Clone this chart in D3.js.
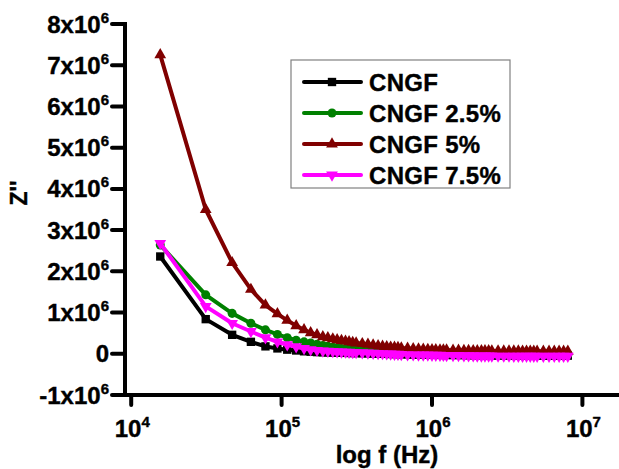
<!DOCTYPE html>
<html>
<head>
<meta charset="utf-8">
<script src="https://cdn.jsdelivr.net/npm/d3@7"></script>
<style>
  html, body { margin: 0; padding: 0; background: #fff; }
  svg { display: block; font-family: "Liberation Sans", Arial, sans-serif; font-weight: bold; }
  text { stroke: #000; stroke-width: 0.4px; }
</style>
</head>
<body>
<div id="chart"></div>
<script>
// frequency (Hz)
const freq = [15600, 31300, 46900, 62500, 78100, 93800, 109000, 125000, 141000, 156000,
  172000, 188000, 203000, 219000, 234000, 250000, 266000, 281000, 297000, 313000,
  344000, 375000, 406000, 438000, 469000, 500000, 531000, 563000, 594000, 625000,
  688000, 750000, 813000, 875000, 938000, 1000000, 1060000, 1130000, 1190000, 1250000,
  1380000, 1500000, 1630000, 1750000, 1880000, 2000000, 2130000, 2250000, 2380000, 2500000,
  2750000, 3000000, 3250000, 3500000, 3750000, 4000000, 4250000, 4500000, 4750000, 5000000,
  5500000, 6000000, 6500000, 7000000, 7500000, 8000000];

// Z'' in units of 1e6
const zCNGF = [2.36, 0.84, 0.46, 0.29, 0.18, 0.13, 0.10, 0.08, 0.06, 0.05,
  0.04, 0.035, 0.032, 0.03, 0.027, 0.025, 0.022, 0.02, 0.017, 0.015,
  0.012, 0.01, 0.005, 0.002, 0, -0.002, -0.005, -0.007, -0.01, -0.012,
  -0.015, -0.02, -0.02, -0.02, -0.025, -0.025, -0.025, -0.027, -0.03, -0.03,
  -0.03, -0.03, -0.032, -0.035, -0.035, -0.035, -0.035, -0.037, -0.04, -0.04,
  -0.04, -0.04, -0.04, -0.04, -0.04, -0.04, -0.04, -0.04, -0.04, -0.04,
  -0.045, -0.045, -0.045, -0.045, -0.045, -0.045];
const zCNGF25 = [2.64, 1.43, 0.98, 0.74, 0.58, 0.47, 0.39, 0.33, 0.29, 0.26,
  0.23, 0.20, 0.18, 0.16, 0.145, 0.13, 0.12, 0.11, 0.10, 0.09,
  0.08, 0.07, 0.06, 0.055, 0.05, 0.045, 0.04, 0.035, 0.03, 0.027,
  0.02, 0.015, 0.01, 0.007, 0.005, 0.002, 0, -0.002, -0.005, -0.007,
  -0.01, -0.01, -0.012, -0.015, -0.015, -0.017, -0.02, -0.02, -0.02, -0.02,
  -0.025, -0.025, -0.025, -0.025, -0.025, -0.025, -0.025, -0.025, -0.025, -0.025,
  -0.025, -0.025, -0.025, -0.025, -0.025, -0.025];
const zCNGF5 = [7.25, 3.50, 2.21, 1.56, 1.18, 0.97, 0.81, 0.68, 0.58, 0.51,
  0.46, 0.41, 0.385, 0.36, 0.34, 0.32, 0.305, 0.29, 0.275, 0.26,
  0.245, 0.23, 0.21, 0.195, 0.18, 0.17, 0.16, 0.155, 0.15, 0.14,
  0.13, 0.12, 0.115, 0.11, 0.10, 0.098, 0.095, 0.092, 0.09, 0.088,
  0.085, 0.082, 0.08, 0.078, 0.075, 0.074, 0.072, 0.071, 0.07, 0.069,
  0.068, 0.066, 0.065, 0.064, 0.064, 0.063, 0.062, 0.062, 0.061, 0.061,
  0.06, 0.06, 0.06, 0.06, 0.06, 0.06];
const zCNGF75 = [2.68, 1.15, 0.74, 0.54, 0.39, 0.29, 0.22, 0.17, 0.13, 0.10,
  0.085, 0.07, 0.062, 0.055, 0.05, 0.045, 0.042, 0.04, 0.035, 0.03,
  0.025, 0.02, 0.015, 0.01, 0.005, 0, -0.005, -0.01, -0.012, -0.015,
  -0.02, -0.025, -0.027, -0.03, -0.03, -0.032, -0.035, -0.035, -0.037, -0.04,
  -0.04, -0.042, -0.045, -0.045, -0.047, -0.05, -0.05, -0.05, -0.05, -0.052,
  -0.055, -0.055, -0.055, -0.057, -0.058, -0.06, -0.06, -0.06, -0.06, -0.06,
  -0.06, -0.06, -0.06, -0.06, -0.06, -0.06];

const seriesNames = ["CNGF", "CNGF 2.5%", "CNGF 5%", "CNGF 7.5%"];
const seriesValues = [zCNGF, zCNGF25, zCNGF5, zCNGF75];
const seriesColors = ["#000000", "#008000", "#800000", "#ff00ff"];
const seriesSymbols = ["square", "circle", "triangle", "triangleDown"];

const yTicks = [-1, 0, 1, 2, 3, 4, 5, 6, 7, 8];
const xTickExp = [4, 5, 6, 7];

const W = 619, H = 469;
const svg = d3.select("#chart").append("svg").attr("width", W).attr("height", H);

// decade 10^4 sits at 131, about 150.4 px per decade
const xBase = d3.scaleLog().domain([1e4, 1e7]).range([131.2, 582.4]);
const x = d3.scaleLog().domain([xBase.invert(125), xBase.invert(622)]).range([125, 622]);
const y = d3.scaleLinear().domain([-1, 8]).range([395, 24]);

// axes
const axG = svg.append("g");
axG.append("line").attr("x1", 125).attr("x2", 125).attr("y1", y(8) - 2).attr("y2", y(-1) + 2)
  .attr("stroke", "#000").attr("stroke-width", 4);
axG.append("line").attr("x1", 123).attr("x2", 622).attr("y1", y(-1)).attr("y2", y(-1))
  .attr("stroke", "#000").attr("stroke-width", 4);

axG.selectAll("line.ytick").data(yTicks).enter().append("line").attr("class", "ytick")
  .attr("x1", 112).attr("x2", 125).attr("y1", d => y(d)).attr("y2", d => y(d))
  .attr("stroke", "#000").attr("stroke-width", 4).attr("stroke-linecap", "round");

axG.selectAll("line.xtick").data(xTickExp).enter().append("line").attr("class", "xtick")
  .attr("x1", d => x(Math.pow(10, d))).attr("x2", d => x(Math.pow(10, d)))
  .attr("y1", y(-1)).attr("y2", y(-1) + 10)
  .attr("stroke", "#000").attr("stroke-width", 4).attr("stroke-linecap", "round");

// y tick labels
const yl = axG.selectAll("text.ylab").data(yTicks).enter().append("text").attr("class", "ylab")
  .attr("x", 109).attr("y", d => y(d) + 8.5).attr("text-anchor", "end")
  .style("font-size", "24px");
yl.each(function(d) {
  const t = d3.select(this);
  if (d === 0) { t.text("0"); return; }
  t.append("tspan").text((d < 0 ? "-" : "") + Math.abs(d) + "x10");
  t.append("tspan").attr("dy", -10).style("font-size", "15px").text("6");
});

// x tick labels
const xl = axG.selectAll("text.xlab").data(xTickExp).enter().append("text").attr("class", "xlab")
  .attr("x", d => x(Math.pow(10, d)) + 1).attr("y", 437).attr("text-anchor", "middle")
  .style("font-size", "24px");
xl.append("tspan").text("10");
xl.append("tspan").attr("dy", -10).style("font-size", "15px").text(d => d);

// axis titles
svg.append("text").attr("x", 387).attr("y", 463).attr("text-anchor", "middle")
  .style("font-size", "24px").text("log f (Hz)");
svg.append("text").attr("transform", "translate(27,193) rotate(-90)").attr("text-anchor", "middle")
  .style("font-size", "23px").text("Z''");

// series
const line = d3.line().x(d => x(d[0])).y(d => y(d[1]));
function symbolPath(kind, size) {
  if (kind === "square") return d3.symbol(d3.symbolSquare, size)();
  if (kind === "circle") return d3.symbol(d3.symbolCircle, size)();
  return d3.symbol(d3.symbolTriangle, size)();
}
const symSizes = { square: 70, circle: 64, triangle: 60, triangleDown: 60 };

seriesValues.forEach((vals, i) => {
  const pts = freq.map((f, j) => [f, vals[j]]);
  const g = svg.append("g");
  g.append("path").datum(pts).attr("d", line).attr("fill", "none")
    .attr("stroke", seriesColors[i]).attr("stroke-width", 4).attr("stroke-linejoin", "round");
  const kind = seriesSymbols[i];
  g.selectAll("path.m").data(pts).enter().append("path").attr("class", "m")
    .attr("d", symbolPath(kind, symSizes[kind]))
    .attr("transform", d => `translate(${x(d[0])},${y(d[1])})` + (kind === "triangleDown" ? " rotate(180)" : ""))
    .attr("fill", seriesColors[i]);
});

// legend
const lg = svg.append("g");
lg.append("rect").attr("x", 291).attr("y", 60).attr("width", 219).attr("height", 128)
  .attr("fill", "#fff").attr("stroke", "#808080").attr("stroke-width", 1.2);
const rows = lg.selectAll("g.row").data(seriesNames).enter().append("g").attr("class", "row")
  .attr("transform", (d, i) => `translate(0,${82 + i * 31})`);
rows.append("line").attr("x1", 304).attr("x2", 361).attr("y1", 0).attr("y2", 0)
  .attr("stroke", (d, i) => seriesColors[i]).attr("stroke-width", 4).attr("stroke-linecap", "round");
rows.append("path")
  .attr("d", (d, i) => symbolPath(seriesSymbols[i], symSizes[seriesSymbols[i]]))
  .attr("transform", (d, i) => "translate(332,0)" + (seriesSymbols[i] === "triangleDown" ? " rotate(180)" : ""))
  .attr("fill", (d, i) => seriesColors[i]);
rows.append("text").attr("x", 369).attr("y", 8.5).style("font-size", "24px")
  .style("letter-spacing", "0.3px").text(d => d);
</script>
</body>
</html>
